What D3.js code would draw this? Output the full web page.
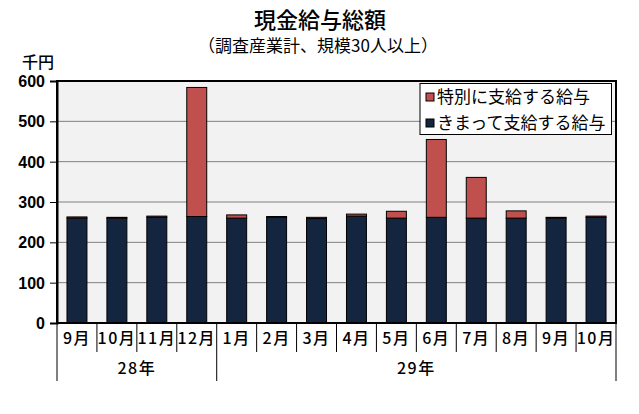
<!DOCTYPE html>
<html><head><meta charset="utf-8">
<script src="https://cdn.jsdelivr.net/npm/d3@7"></script>
<style>
body{margin:0;background:#fff;}
svg{display:block;}
text{font-family:"Noto Sans CJK JP","Noto Sans",sans-serif;fill:#000;}
</style></head>
<body>
<script>
const months = ["9月","10月","11月","12月","1月","2月","3月","4月","5月","6月","7月","8月","9月","10月"];
const years = [{label:"28年", start:0, end:4},{label:"29年", start:4, end:14}];
const regular = [260, 260, 262, 264, 260, 262, 259, 265, 260, 262, 260, 260, 260, 262];
const special = [3, 2, 3, 320, 8, 2, 3, 5, 17, 193, 101, 18, 2, 3];
const yTicks = [0,100,200,300,400,500,600];
const seriesNames = ["特別に支給する給与","きまって支給する給与"];
const colors = {regular:"#13253f", special:"#c0504d"};

const W=639,H=414;
const L=57,R=616,T=81,B=323;
const svg = d3.select("body").append("svg").attr("width",W).attr("height",H);

const x = d3.scaleBand().domain(d3.range(months.length)).range([L,R]).paddingInner(0.5).paddingOuter(0.25);
const y = d3.scaleLinear().domain([0,600]).range([B,T]);
const step = x.step();

// titles
svg.append("text").attr("x",320).attr("y",28).attr("text-anchor","middle")
  .style("font-size","22px").style("font-weight","500").text("現金給与総額");
svg.append("text").attr("x",318).attr("y",52).attr("text-anchor","middle")
  .style("font-size","17px").text("（調査産業計、規模30人以上）");
svg.append("text").attr("x",22).attr("y",68)
  .style("font-size","16px").style("font-weight","500").text("千円");

// plot background
svg.append("rect").attr("x",L).attr("y",T).attr("width",R-L).attr("height",B-T).attr("fill","#f2f2f2");

// gridlines
svg.append("g").selectAll("line").data(yTicks.filter(d=>d>0&&d<600)).join("line")
  .attr("x1",L).attr("x2",R).attr("y1",d=>y(d)).attr("y2",d=>y(d))
  .attr("stroke","#808080").attr("stroke-width",1);

// bars
const data = months.map((m,i)=>({i, r:regular[i], s:special[i]}));
const g = svg.append("g");
g.selectAll("rect.reg").data(data).join("rect").attr("class","reg")
  .attr("x",d=>x(d.i)).attr("width",x.bandwidth())
  .attr("y",d=>y(d.r)).attr("height",d=>y(0)-y(d.r))
  .attr("fill",colors.regular).attr("stroke","#000").attr("stroke-width",1);
g.selectAll("rect.spc").data(data).join("rect").attr("class","spc")
  .attr("x",d=>x(d.i)).attr("width",x.bandwidth())
  .attr("y",d=>y(d.r+d.s)).attr("height",d=>y(d.r)-y(d.r+d.s))
  .attr("fill",colors.special).attr("stroke","#000").attr("stroke-width",1);

// plot border
svg.append("rect").attr("x",L).attr("y",T).attr("width",R-L).attr("height",B-T)
  .attr("fill","none").attr("stroke","#000").attr("stroke-width",2);

// y axis
const ya = svg.append("g").attr("transform",`translate(${L},0)`)
  .call(d3.axisLeft(y).tickValues(yTicks).tickSize(7).tickPadding(5));
ya.select(".domain").attr("stroke","#000").attr("stroke-width",2);
ya.selectAll(".tick line").attr("stroke","#000");
ya.selectAll(".tick text").style("font-size","16px").style("font-weight","bold")
  .style("font-family","'Liberation Sans',Arial,sans-serif").attr("dy","0.35em");

// category separators
const cat = svg.append("g");
const bounds = d3.range(months.length+1);
const yearBounds = new Set(years.flatMap(yv=>[yv.start,yv.end]));
cat.selectAll("line").data(bounds).join("line")
  .attr("x1",i=>L+i*step).attr("x2",i=>L+i*step)
  .attr("y1",B).attr("y2",i=>yearBounds.has(i)?381:352)
  .attr("stroke","#000").attr("stroke-width",1);
cat.selectAll("text.m").data(months).join("text").attr("class","m")
  .attr("x",(d,i)=>x(i)+x.bandwidth()/2).attr("y",344).attr("text-anchor","middle")
  .style("font-size","16px").style("font-weight","500").style("letter-spacing","1.5px").text(d=>d);
cat.selectAll("text.yr").data(years).join("text").attr("class","yr")
  .attr("x",d=>L+(d.start+d.end)/2*step).attr("y",374).attr("text-anchor","middle")
  .style("font-size","16px").style("font-weight","500").style("letter-spacing","1.5px").text(d=>d.label);

// legend
const lg = svg.append("g");
lg.append("rect").attr("x",420).attr("y",83.5).attr("width",191.5).attr("height",51)
  .attr("fill","#fff").attr("stroke","#000").attr("stroke-width",1);
const legItems = [{n:seriesNames[0],c:colors.special},{n:seriesNames[1],c:colors.regular}];
legItems.forEach((it,k)=>{
  const cy = 97 + k*26;
  lg.append("rect").attr("x",426).attr("y",cy-4).attr("width",8).attr("height",8)
    .attr("fill",it.c).attr("stroke","#000").attr("stroke-width",1);
  lg.append("text").attr("x",437).attr("y",cy).attr("dy","0.36em")
    .style("font-size","17px").text(it.n);
});
</script>
</body></html>
